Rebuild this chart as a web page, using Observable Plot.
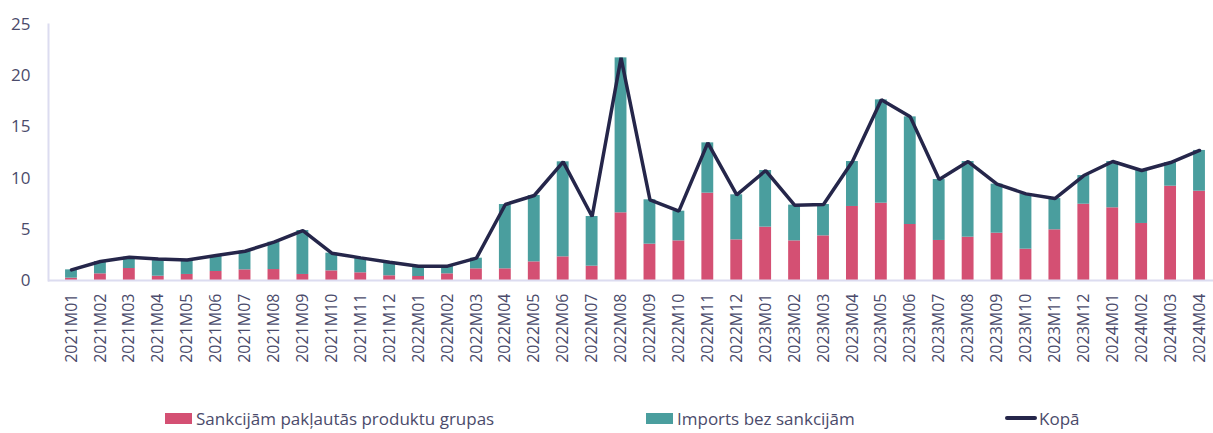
<!DOCTYPE html>
<html>
<head>
<meta charset="utf-8">
<script src="https://cdn.jsdelivr.net/npm/d3@7"></script>
<script src="https://cdn.jsdelivr.net/npm/@observablehq/plot@0.6"></script>
<style>
  html, body { margin: 0; padding: 0; background: #fff; overflow: hidden; }
  #chart { width: 1213px; }
  #legend { position: relative; width: 1213px; height: 38px; font-family: "Open Sans", sans-serif; font-size: 17px; color: #4b4b6b; }
  .item { position: absolute; top: 9px; height: 28px; display: flex; align-items: center; white-space: nowrap; }
  .sw { display: inline-block; width: 27px; height: 11px; margin-right: 4px; }
  .ln { display: inline-block; width: 32px; height: 4px; margin-right: 2px; background: #25264a; border-radius: 2px; }
</style>
</head>
<body>
<div id="chart"></div>
<div id="legend"></div>
<script>
const months = ["2021M01","2021M02","2021M03","2021M04","2021M05","2021M06","2021M07","2021M08","2021M09","2021M10","2021M11","2021M12",
  "2022M01","2022M02","2022M03","2022M04","2022M05","2022M06","2022M07","2022M08","2022M09","2022M10","2022M11","2022M12",
  "2023M01","2023M02","2023M03","2023M04","2023M05","2023M06","2023M07","2023M08","2023M09","2023M10","2023M11","2023M12",
  "2024M01","2024M02","2024M03","2024M04"];
const sanctioned = [0.23,0.65,1.17,0.42,0.59,0.88,1.04,1.07,0.59,0.94,0.75,0.46,
  0.39,0.65,1.14,1.14,1.82,2.31,1.40,6.61,3.55,3.87,8.53,3.97,
  5.21,3.87,4.36,7.23,7.55,5.47,3.91,4.23,4.62,3.06,4.95,7.45,
  7.10,5.57,9.21,8.72];
const nonSanctioned = [0.81,1.20,1.11,1.68,1.41,1.56,1.82,2.67,4.29,1.73,1.46,1.33,
  1.01,0.75,1.04,6.28,6.48,9.28,4.85,15.13,4.33,2.90,4.91,4.40,
  5.53,3.49,3.06,4.39,10.09,10.51,5.95,7.39,4.79,5.40,3.05,2.80,
  4.52,5.17,2.31,3.98];
const totals = [1.04,1.85,2.28,2.10,2.00,2.44,2.86,3.74,4.88,2.67,2.21,1.79,
  1.40,1.40,2.18,7.42,8.30,11.59,6.25,21.74,7.88,6.77,13.44,8.37,
  10.74,7.36,7.42,11.62,17.64,15.98,9.86,11.62,9.41,8.46,8.00,10.25,
  11.62,10.74,11.52,12.70];
const seriesNames = ["Sankcijām pakļautās produktu grupas", "Imports bez sankcijām", "Kopā"];
const seriesColors = ["#d45073", "#4a9e9e", "#25264a"];
const yTicks = [0, 5, 10, 15, 20, 25];

const barData = [];
months.forEach((m, i) => {
  barData.push({month: m, series: seriesNames[0], value: sanctioned[i]});
  barData.push({month: m, series: seriesNames[1], value: nonSanctioned[i]});
});
const lineData = months.map((m, i) => ({month: m, value: totals[i]}));

const textColor = "#4b4b6b";
const axisColor = "#dcdcf0";

const chart = Plot.plot({
  width: 1213,
  height: 395,
  marginTop: 24,
  marginBottom: 115,
  marginLeft: 48,
  marginRight: -9,
  style: {fontFamily: "'Open Sans', sans-serif", color: textColor, background: "#fff"},
  x: {domain: months, padding: 0.59, label: null},
  y: {domain: [0, 25], label: null},
  color: {domain: seriesNames.slice(0, 2), range: seriesColors.slice(0, 2)},
  marks: [
    Plot.barY(barData, {x: "month", y: "value", fill: "series", order: seriesNames.slice(0, 2)}),
    Plot.frame({anchor: "left", stroke: axisColor, strokeWidth: 2}),
    Plot.ruleY([0], {stroke: axisColor, strokeWidth: 2}),
    Plot.lineY(lineData, {x: "month", y: "value", stroke: seriesColors[2], strokeWidth: 3.5, strokeLinejoin: "miter"}),
    Plot.axisY({ticks: yTicks, tickSize: 0, tickPadding: 18, fontSize: 17, label: null}),
    Plot.axisX({tickSize: 0, tickPadding: 13, tickRotate: -90, fontSize: 16, label: null})
  ]
});
document.getElementById("chart").appendChild(chart);

const legend = document.getElementById("legend");
const legendPos = [165, 646, 1005];
seriesNames.forEach((name, i) => {
  const it = document.createElement("div");
  it.className = "item";
  it.style.left = legendPos[i] + "px";
  const sw = document.createElement("span");
  if (i < 2) { sw.className = "sw"; sw.style.background = seriesColors[i]; }
  else { sw.className = "ln"; }
  it.appendChild(sw);
  const t = document.createElement("span");
  t.textContent = name;
  it.appendChild(t);
  legend.appendChild(it);
});
</script>
</body>
</html>
